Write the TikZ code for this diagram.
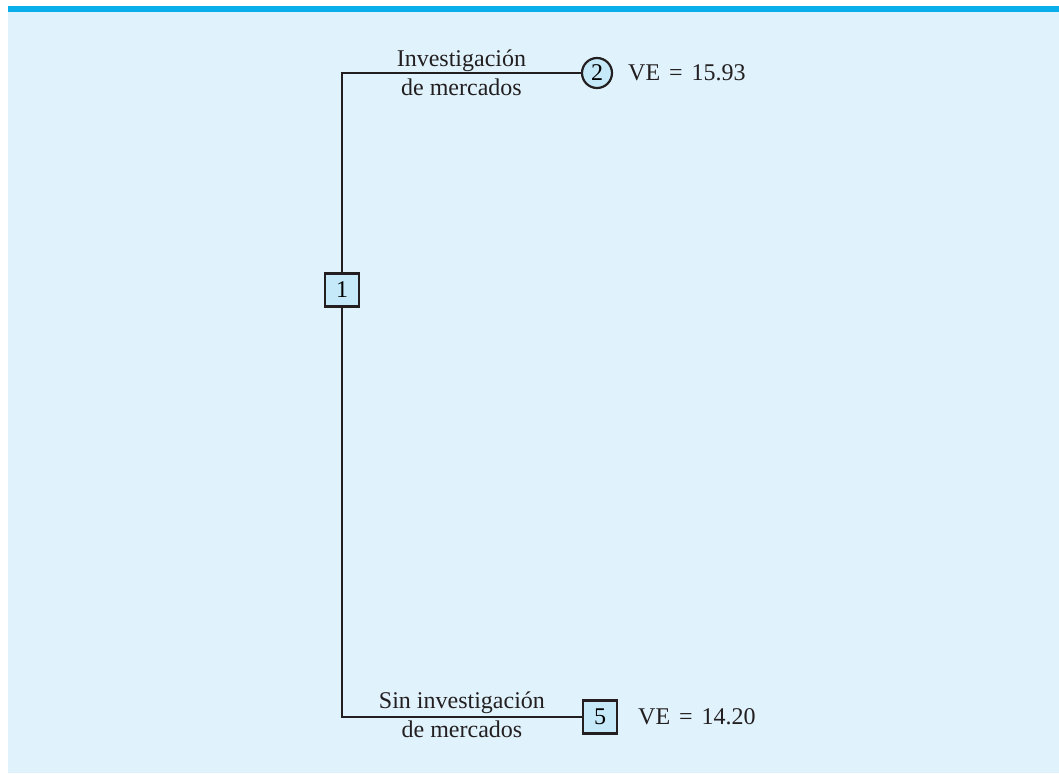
\documentclass[tikz,border=0pt]{standalone}
\usepackage{fontspec}
\setmainfont{Liberation Serif}
\usepackage{xcolor}
\usetikzlibrary{positioning}

\definecolor{panelbg}{HTML}{E0F2FC}
\definecolor{panelbar}{HTML}{0AAEEA}
\definecolor{nodefill}{HTML}{C6E9F9}
\definecolor{inkline}{HTML}{231F20}

\tikzset{
  decision/.style={draw=inkline,line width=1.1pt,fill=nodefill,inner sep=0pt,
    minimum width=17pt,minimum height=16.5pt},
  chance/.style={draw=inkline,line width=1.1pt,fill=nodefill,circle,inner sep=0pt,
    minimum size=15pt},
  branch/.style={draw=inkline,line width=1.1pt},
  branchlabel/.style={align=center,text=inkline}
}
\newcommand{\veq}{\hspace{4.5pt}=\hspace{4.5pt}}

\begin{document}
\begin{tikzpicture}[x=0.5pt,y=-0.5pt,font=\fontsize{12}{14.5}\selectfont]
  \useasboundingbox (0,0) rectangle (1059,773);
  % panel background and top bar
  \fill[panelbg] (8,6) rectangle (1059,773);
  \fill[panelbar] (8,6) rectangle (1059,12);
  % nodes
  \node[decision] (d1) at (342,290) {1};
  \node[chance] (c2) at (597,73) {2};
  \node[decision] (d5) at (600,717) {5};
  % branches
  \draw[branch] (d1.north) |- node[pos=0.75,branchlabel] {Investigación\\de mercados} (c2.west);
  \draw[branch] (d1.south) |- node[pos=0.75,branchlabel,yshift=1pt] {Sin investigación\\de mercados} (d5.west);
  % expected values
  \node[right=4pt of c2,text=inkline] (ve2) {VE\veq 15.93};
  \node[right=6.5pt of d5,text=inkline] (ve5) {VE\veq 14.20};
\end{tikzpicture}
\end{document}
